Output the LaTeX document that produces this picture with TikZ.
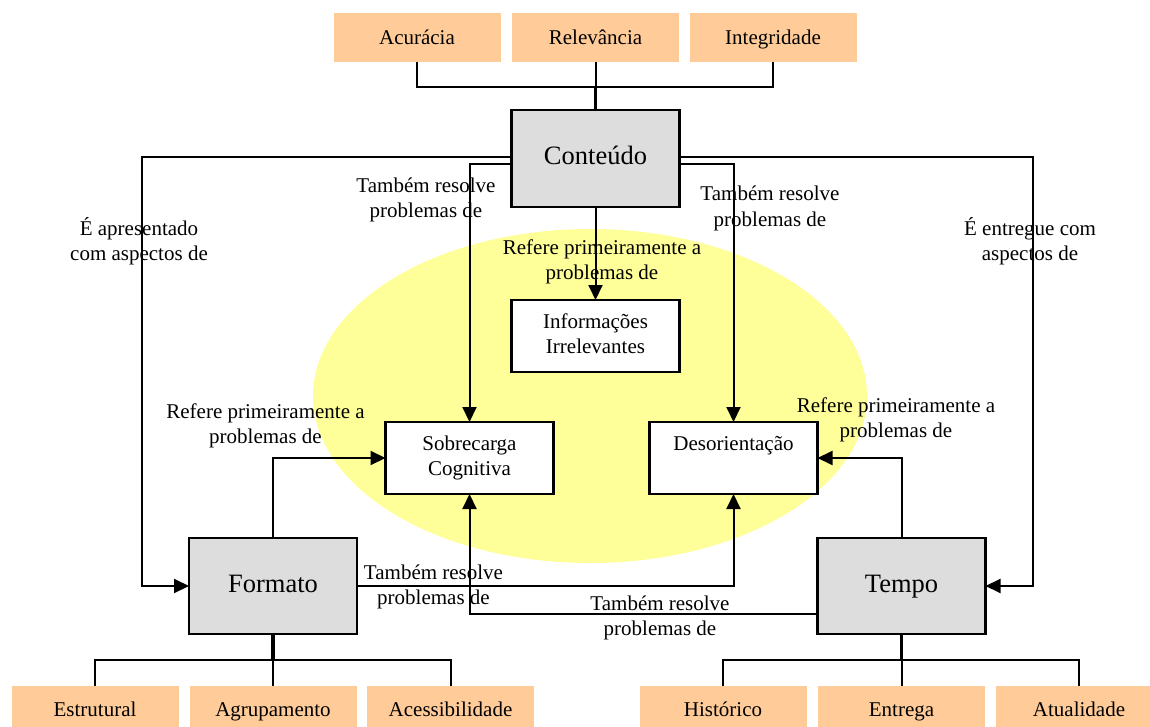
\documentclass[tikz,border=0pt]{standalone}
\usepackage{fontspec}
\setmainfont{Liberation Serif}
\usetikzlibrary{arrows.meta}
\definecolor{peach}{RGB}{255,204,153}
\definecolor{boxgray}{RGB}{221,221,221}
\definecolor{halo}{RGB}{255,255,153}
% two centred lines of equal height
\newcommand\twolines[2]{\strut#1\\\strut#2}
% strut that sets a single line slightly lower in its box
\newcommand\lowstrut{\rule[-5.5pt]{0pt}{25pt}}

\begin{document}
\begin{tikzpicture}[x=1pt,y=-1pt,
  every node/.style={inner sep=0pt, outer sep=0pt, align=center,
    font=\fontsize{21}{25}\selectfont},
  attr/.style={fill=peach, minimum width=167pt, minimum height=49pt},
  dim/.style={draw, line width=2.2pt, fill=boxgray, minimum width=168pt,
    minimum height=96pt, font=\fontsize{26.5}{30}\selectfont},
  issue/.style={draw, line width=2.2pt, fill=white, minimum width=168pt,
    minimum height=72pt},
  conn/.style={line width=2pt},
  arr/.style={conn, -{Triangle[length=15pt,width=14pt]}},
  stem/.style={line width=3.5pt}]

\fill[white] (0,0) rectangle (1150,727);
\clip (0,0) rectangle (1150,727);

% highlighted problem area
\fill[halo] (590,396) ellipse [x radius=277pt, y radius=167pt];

% attributes of content
\node[attr] (acu)   at (417,37.5)   {\lowstrut Acurácia};
\node[attr] (rel)   at (595.5,37.5) {\lowstrut Relevância};
\node[attr] (integ) at (773,37.5)   {\lowstrut Integridade};

% dimensions
\node[dim, minimum height=97pt] (cont) at (595.5,158.5) {\strut Conteúdo};
\node[dim] (form)  at (273,586)   {\strut Formato};
\node[dim] (tempo) at (901.5,586) {\strut Tempo};

% problems
\node[issue] (info) at (595.5,336) {\twolines{Informações}{Irrelevantes}};
\node[issue] (sob)  at (469.5,458) {\twolines{Sobrecarga}{Cognitiva}};
\node[issue] (deso) at (733.5,458) {\twolines{Desorientação}{}};

% attributes of format and time
\node[attr, minimum height=47pt] (estr)  at (95,709.5)    {\lowstrut Estrutural};
\node[attr, minimum height=47pt] (agru)  at (273,709.5)   {\lowstrut Agrupamento};
\node[attr, minimum height=47pt] (acess) at (450.5,709.5) {\lowstrut Acessibilidade};
\node[attr, minimum height=47pt] (hist)  at (723,709.5)   {\lowstrut Histórico};
\node[attr, minimum height=47pt] (entr)  at (901.5,709.5) {\lowstrut Entrega};
\node[attr, minimum height=47pt] (atual) at (1079,709.5)  {\lowstrut Atualidade};

% brackets
\draw[conn] (acu.south) |- (integ.south |- 0,87) -- (integ.south);
\draw[conn] (rel.south) -- (rel.south |- 0,87);
\draw[stem] (cont.north) -- (cont.north |- 0,87);
\draw[conn] (estr.north) |- (acess.north |- 0,660) -- (acess.north);
\draw[conn] (agru.north) -- (agru.north |- 0,660);
\draw[stem] (form.south) -- (form.south |- 0,660);
\draw[conn] (hist.north) |- (atual.north |- 0,660) -- (atual.north);
\draw[conn] (entr.north) -- (entr.north |- 0,660);
\draw[stem] (tempo.south) -- (tempo.south |- 0,660);

% relations
\draw[arr] (cont.west |- 0,157) -| ([xshift=-47pt]form.west) -- (form.west);
\draw[arr] (cont.east |- 0,157) -| ([xshift=47pt]tempo.east) -- (tempo.east);
\draw[arr] (cont.west |- 0,164) -| (sob.north);
\draw[arr] (cont.east |- 0,164) -| (deso.north);
\draw[arr] (cont.south) -- (info.north);
\draw[arr] (form.north) |- (sob.west);
\draw[arr] (tempo.north) |- (deso.east);
\draw[arr] (form.east) -| (deso.south);
\draw[arr] (tempo.west |- 0,614) -| (sob.south);

% relation labels
\node (l1) at (139,242.5)   {\twolines{É apresentado}{com aspectos de}};
\node (l2) at (1030,242.5)  {\twolines{É entregue com}{aspectos de}};
\node (l3) at (426,200.5)   {\twolines{Também resolve}{problemas de}};
\node (l4) at (770,208.5)   {\twolines{Também resolve}{problemas de}};
\node (l5) at (602,262)     {\twolines{Refere primeiramente a}{problemas de}};
\node (l6) at (265.5,425.5) {\twolines{Refere primeiramente a}{problemas de}};
\node (l7) at (896,420)     {\twolines{Refere primeiramente a}{problemas de}};
\node (l8) at (433.5,586.5) {\twolines{Também resolve}{problemas de}};
\node (l9) at (660,617.5)   {\twolines{Também resolve}{problemas de}};
\end{tikzpicture}
\end{document}
